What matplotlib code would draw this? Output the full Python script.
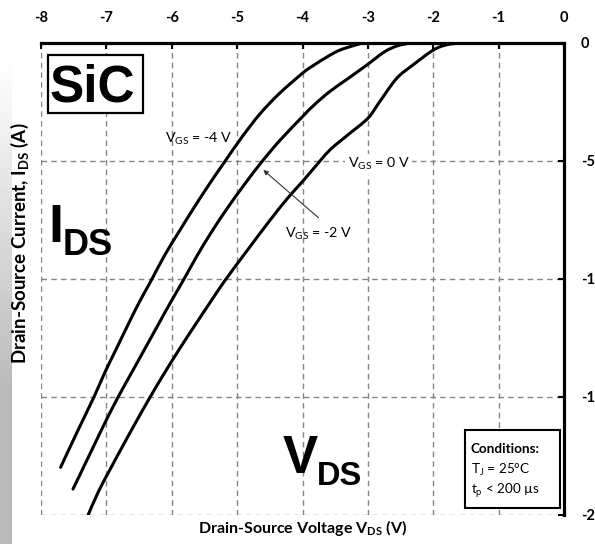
import numpy as np
import matplotlib
matplotlib.use("Agg")
import matplotlib.pyplot as plt
from matplotlib import font_manager
from matplotlib.patches import Rectangle, PathPatch
from matplotlib.path import Path

# Third-quadrant output characteristics of a SiC MOSFET (body-diode region)
vds_vgs_m4 = [-3.08, -3.38, -3.57, -3.86, -4.00, -4.35, -4.65, -4.93, -5.19,
              -5.43, -5.665, -5.89, -6.11, -6.31, -6.50, -6.68, -6.855, -7.03,
              -7.19, -7.45, -7.70]
ids_vgs_m4 = [0.0, -0.25, -0.50, -1.00, -1.28, -2.13, -3.00, -4.00, -5.03,
              -6.00, -7.00, -8.00, -9.00, -10.04, -11.0, -12.0, -13.0, -14.0,
              -15.0, -16.5, -17.98]

vds_vgs_m2 = [-2.35, -2.55, -2.75, -3.00, -3.30, -3.58, -3.82, -4.00, -4.35,
              -4.63, -4.89, -5.15, -5.39, -5.61, -5.82, -6.02, -6.22, -6.42,
              -6.62, -6.82, -7.00, -7.18, -7.51]
ids_vgs_m2 = [0.0, -0.12, -0.38, -0.90, -1.50, -2.05, -2.62, -3.12, -4.14,
              -5.06, -6.00, -7.00, -8.00, -9.00, -10.04, -11.0, -12.0, -13.0,
              -14.0, -15.0, -15.97, -17.0, -18.9]

vds_vgs_0 = [-1.60, -1.80, -2.00, -2.31, -2.56, -2.82, -3.00, -3.30, -3.58,
             -3.80, -4.00, -4.22, -4.50, -4.84, -5.18, -5.415, -5.655, -5.89,
             -6.115, -6.33, -6.535, -6.735, -6.93, -7.12, -7.29]
ids_vgs_0 = [0.0, -0.08, -0.30, -0.93, -1.50, -2.49, -3.19, -3.88, -4.53,
             -5.22, -5.87, -6.55, -7.52, -8.77, -10.04, -11.0, -12.0, -13.0,
             -14.0, -15.0, -16.0, -17.0, -18.0, -19.0, -20.07]

x_ticks = [-8, -7, -6, -5, -4, -3, -2, -1, 0]
x_tick_labels = ["-8", "-7", "-6", "-5", "-4", "-3", "-2", "-1", "0"]
y_ticks = [0, -5, -10, -15, -20]
y_tick_labels = ["0", "-5", "-10", "-15", "-20"]

available = {f.name for f in font_manager.fontManager.ttflist}
TXT = "Lato" if "Lato" in available else "DejaVu Sans"
BIG = "Liberation Sans" if "Liberation Sans" in available else "DejaVu Sans"

plt.rcParams["axes.unicode_minus"] = False
plt.rcParams["font.family"] = [TXT, "DejaVu Sans"]


def smooth_curve_path(xs, ys):
    """Cubic Bezier path passing through every measured point (Catmull-Rom)."""
    p = np.column_stack([xs, ys]).astype(float)
    n = len(p)
    verts = [p[0]]
    codes = [Path.MOVETO]
    for i in range(n - 1):
        p0 = p[i - 1] if i > 0 else p[i]
        p3 = p[i + 2] if i + 2 < n else p[i + 1]
        c1 = p[i] + (p[i + 1] - p0) / 6.0
        c2 = p[i + 1] - (p3 - p[i]) / 6.0
        verts += [c1, c2, p[i + 1]]
        codes += [Path.CURVE4] * 3
    return Path(verts, codes)


W, H = 595, 544
fig = plt.figure(figsize=(W / 100, H / 100), dpi=100)

# grey shaded strip along the left border of the figure
strip_ax = fig.add_axes([0, 0, 12 / W, 1])
rows = np.arange(H)
shade = np.where(rows < 60, 1.0, 1.0 - 0.27 * np.clip((rows - 60) / 330, 0, 1))
strip_ax.imshow(np.repeat(shade[:, None], 4, axis=1), cmap="gray", vmin=0, vmax=1,
                aspect="auto", interpolation="bilinear")
strip_ax.axis("off")

ax = fig.add_axes([41 / W, 29 / H, 523 / W, 472 / H])
ax.set_xlim(-8, 0)
ax.set_ylim(-20, 0)

grid_kw = dict(color="#858585", lw=1.0, linestyle=(0, (4, 3)), zorder=1)
for xv in x_ticks[:-1]:
    ax.axvline(xv, **grid_kw)
for yv in y_ticks[1:]:
    ax.axhline(yv, **grid_kw)

for xs, ys in [(vds_vgs_m4, ids_vgs_m4), (vds_vgs_m2, ids_vgs_m2), (vds_vgs_0, ids_vgs_0)]:
    ax.add_patch(PathPatch(smooth_curve_path(xs, ys), facecolor="none",
                           edgecolor="black", lw=2.2, capstyle="round",
                           joinstyle="round", zorder=3))

for side in ("left", "bottom"):
    ax.spines[side].set_visible(False)
for side in ("top", "right"):
    ax.spines[side].set_linewidth(2.3)
    ax.spines[side].set_color("black")
    ax.spines[side].set_zorder(5)

ax.xaxis.tick_top()
ax.yaxis.tick_right()
ax.set_xticks(x_ticks)
ax.set_xticklabels(x_tick_labels)
ax.set_yticks(y_ticks)
ax.set_yticklabels(y_tick_labels)
ax.tick_params(axis="x", direction="in", length=4, width=1.5, pad=13,
               labelsize=10.5)
ax.tick_params(axis="y", direction="in", length=4, width=1.5, pad=12,
               labelsize=10.5)
for lab in ax.get_xticklabels() + ax.get_yticklabels():
    lab.set_fontweight("bold")

ax.set_xlabel(r"Drain-Source Voltage V$_\mathregular{DS}$ (V)", fontsize=11.5,
              fontweight="bold")
ax.xaxis.set_label_position("bottom")
ax.xaxis.label.set_va("center")
ax.xaxis.set_label_coords(0.501, -0.0275)

ax.set_ylabel(r"Drain-Source Current, I$_\mathregular{DS}$ (A)", fontsize=13.5,
              fontweight="bold")
ax.yaxis.set_label_position("left")
ax.yaxis.label.set_va("center")
ax.yaxis.set_label_coords(-0.040, 0.575)

# curve labels
ax.text(-6.10, -4.24, r"V$_\mathregular{GS}$ = -4 V", fontsize=10.3,
        ha="left", va="baseline", zorder=4)
ax.text(-3.31, -5.30, r"V$_\mathregular{GS}$ = 0 V", fontsize=10.3,
        ha="left", va="baseline", zorder=4,
        bbox=dict(facecolor="white", edgecolor="none", pad=1.5))
ax.annotate(r"V$_\mathregular{GS}$ = -2 V", xy=(-4.60, -5.38), xytext=(-4.27, -8.26),
            fontsize=10.3, ha="left", va="baseline", zorder=4,
            arrowprops=dict(arrowstyle="-|>", lw=0.8, color="#333333",
                            mutation_scale=7, shrinkA=0, shrinkB=0,
                            patchA=None, relpos=(0.50, 1.5)))

# material tag
ax.add_patch(Rectangle((-7.893, -2.97), 1.453, 2.46, facecolor="white",
                       edgecolor="black", lw=1.6, zorder=4))
ax.text(-7.87, -2.50, "SiC", family=BIG, fontweight="bold", fontsize=37,
        ha="left", va="baseline", zorder=5)

# large axis symbols
ax.text(-7.89, -8.43, "I", family=BIG, fontweight="bold", fontsize=39,
        ha="left", va="baseline", zorder=4)
ax.text(-7.67, -8.98, "DS", family=BIG, fontweight="bold", fontsize=26,
        ha="left", va="baseline", zorder=4)
ax.text(-4.31, -18.22, "V", family=BIG, fontweight="bold", fontsize=38,
        ha="left", va="baseline", zorder=4)
ax.text(-3.78, -18.73, "DS", family=BIG, fontweight="bold", fontsize=23.5,
        ha="left", va="baseline", zorder=4)

# test conditions box
ax.add_patch(Rectangle((-1.517, -19.70), 1.453, 3.30, facecolor="white",
                       edgecolor="black", lw=1.5, zorder=4))
ax.text(-1.425, -17.37, "Conditions:", fontsize=9.7, fontweight="bold",
        ha="left", va="baseline", zorder=5)
ax.text(-1.425, -18.25, r"T$_\mathregular{J}$ = 25°C", fontsize=9.7,
        ha="left", va="baseline", zorder=5)
ax.text(-1.425, -19.12, r"t$_\mathregular{p}$ < 200 µs", fontsize=9.7,
        ha="left", va="baseline", zorder=5)

fig.savefig("out.png", dpi=100)
